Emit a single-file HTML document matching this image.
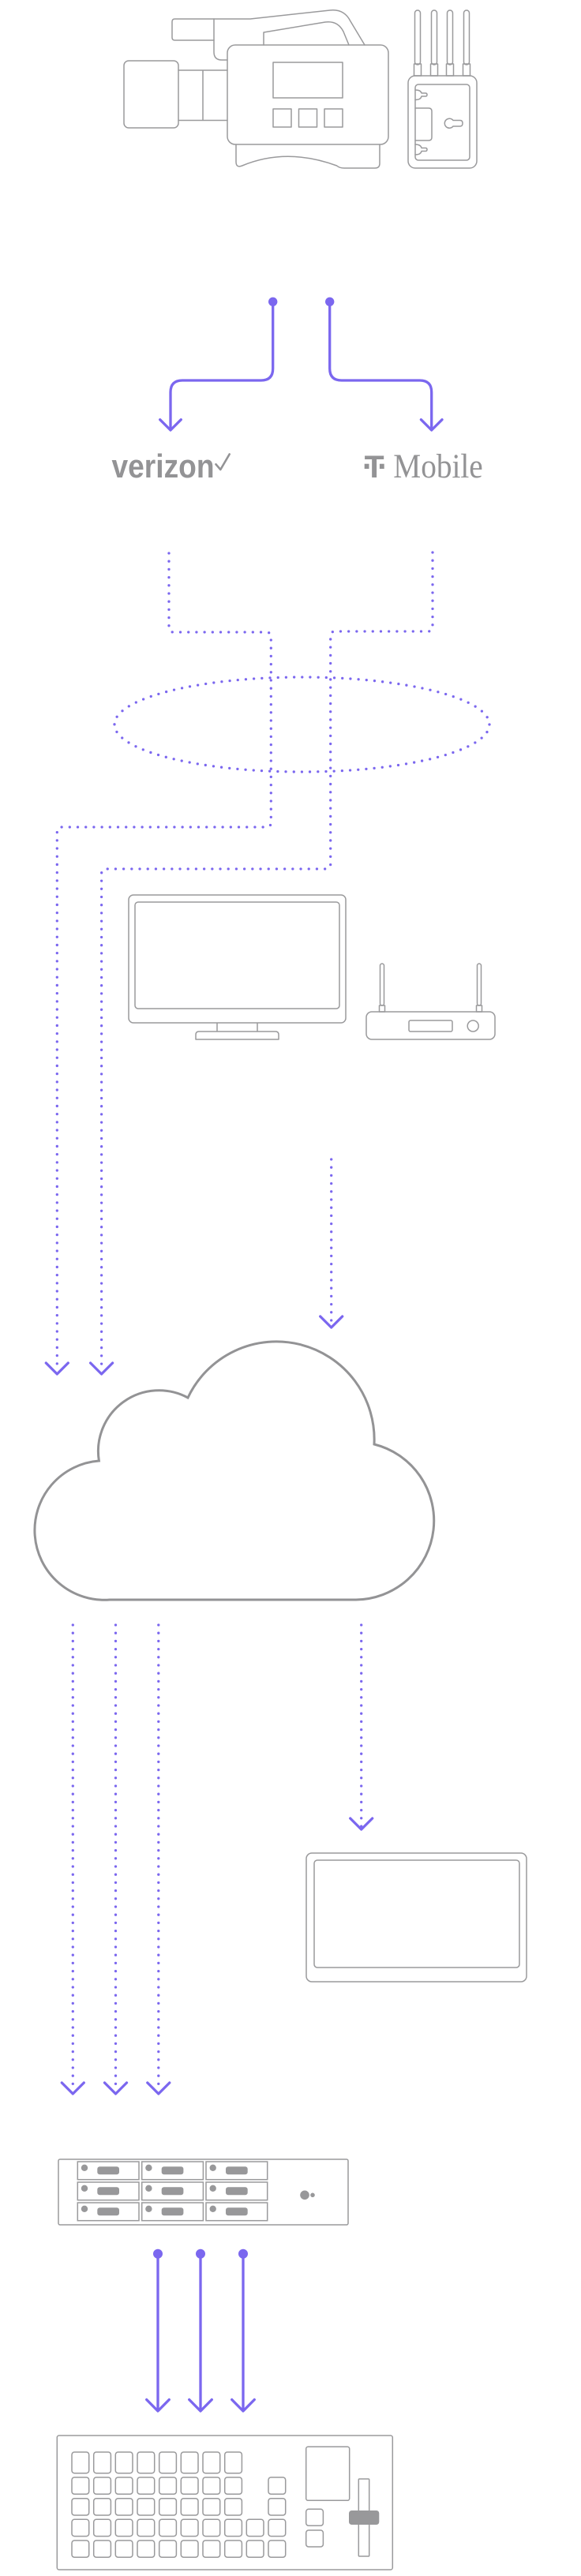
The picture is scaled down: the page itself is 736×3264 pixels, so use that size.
<!DOCTYPE html>
<html>
<head>
<meta charset="utf-8">
<style>
  html,body{margin:0;padding:0;background:#ffffff;}
  body{width:736px;height:3264px;overflow:hidden;}
  svg{display:block;}
</style>
</head>
<body>
<svg width="736" height="3264" viewBox="0 0 736 3264" xmlns="http://www.w3.org/2000/svg">
  <rect x="0" y="0" width="736" height="3264" fill="#ffffff"/>

  <!-- ================= CAMERA + TRANSMITTER ================= -->
  <g fill="none" stroke="#9a9a9c" stroke-width="1.5" stroke-linejoin="round" stroke-linecap="round">
    <!-- handle grip -->
    <path d="M271,24 H221.5 Q218,24 218,27.5 V47.5 Q218,51 221.5,51 H271"/>
    <path d="M271,24 V66 Q271,76 281,76 H288"/>
    <path d="M271,24 H317 L418,13 Q436,11 444,27 L462,57"/>
    <path d="M334,57 V41 L412,28 Q428,26 435,40 L442,57"/>
    <!-- body -->
    <rect x="288" y="57" width="204" height="126" rx="10"/>
    <rect x="346" y="79" width="88" height="45"/>
    <rect x="346" y="138" width="23" height="23"/>
    <rect x="378.5" y="138" width="23" height="23"/>
    <rect x="411" y="138" width="23" height="23"/>
    <!-- lens -->
    <rect x="157" y="77" width="69" height="85" rx="6"/>
    <path d="M226,89 H288 M226,152.5 H288 M257,89 V152.5"/>
    <!-- bottom piece -->
    <path d="M299,183 V205 Q299,213 306.7,210 Q363,186.6 426.7,210 Q430,213 436,213 H475 Q481,213 481,207 V183"/>

    <!-- transmitter antennas -->
    <rect x="525.5" y="13" width="7" height="69" rx="3.5"/>
    <rect x="546.5" y="13" width="7" height="69" rx="3.5"/>
    <rect x="566.5" y="13" width="7" height="69" rx="3.5"/>
    <rect x="587.5" y="13" width="7" height="69" rx="3.5"/>
    <rect x="524.5" y="81" width="9" height="15"/>
    <rect x="545.5" y="81" width="9" height="15"/>
    <rect x="565.5" y="81" width="9" height="15"/>
    <rect x="586.5" y="81" width="9" height="15"/>
    <!-- transmitter body -->
    <rect x="517" y="96" width="87" height="117" rx="9"/>
    <rect x="526" y="107" width="69" height="96" rx="4"/>
    <path d="M526,114 Q533,114 534,118 H539 Q541,118 541,120 Q541,122 539,122 H534 Q533,126.5 526,126.5"/>
    <path d="M526,137 H543 Q547,137 547,141 V174 Q547,178 543,178 H526"/>
    <path d="M526,183 Q533,183 534,187.5 H539 Q541,187.5 541,189.5 Q541,191.5 539,191.5 H534 Q533,196 526,196"/>
    <path d="M574,152.5 A6,6 0 1 0 574,160 H583 Q586,160 586,156.3 Q586,152.5 583,152.5 Z"/>
  </g>

  <!-- ================= TOP SOLID ARROWS ================= -->
  <g fill="none" stroke="#7b67ef" stroke-width="3.3" stroke-linecap="round" stroke-linejoin="round">
    <path d="M345.7,382 V467 Q345.7,482 330.7,482 H231 Q216,482 216,497 V544"/>
    <path d="M202.7,531.7 L216,545 L229.3,531.7"/>
    <path d="M417.7,382 V467 Q417.7,482 432.7,482 H531.7 Q546.7,482 546.7,497 V544"/>
    <path d="M533.4,531.7 L546.7,545 L560,531.7"/>
  </g>
  <circle cx="345.7" cy="382.3" r="5.7" fill="#7b67ef"/>
  <circle cx="417.7" cy="382.3" r="5.7" fill="#7b67ef"/>

  <!-- ================= LOGOS ================= -->
  <text x="141.5" y="605" font-family="'Liberation Sans', Arial, sans-serif" font-weight="bold" font-size="42" fill="#939395" textLength="130" lengthAdjust="spacingAndGlyphs">verizon</text>
  <path d="M273.5,588.3 L279.3,595 L290.7,575.5" fill="none" stroke="#939395" stroke-width="2.6" stroke-linecap="round" stroke-linejoin="round"/>

  <text x="461.7" y="605" font-family="'Liberation Sans', Arial, sans-serif" font-weight="bold" font-size="40" fill="#939395" textLength="25" lengthAdjust="spacingAndGlyphs">T</text>
  <rect x="461.7" y="587.7" width="5.8" height="6.3" fill="#939395"/>
  <rect x="480.9" y="587.7" width="5.8" height="6.3" fill="#939395"/>
  <text x="498.3" y="605" font-family="'Liberation Serif', 'Times New Roman', serif" font-size="43" fill="#939395" textLength="113.4" lengthAdjust="spacingAndGlyphs">Mobile</text>

  <!-- ================= DOTTED PATHS ================= -->
  <g fill="none" stroke="#7b67ef" stroke-width="3.3" stroke-linecap="round" stroke-dasharray="0 10.2">
    <path d="M214,701 V795 Q214,801 220,801 H337 Q343.3,801 343.3,807 V1042 Q343.3,1048 337,1048 H78 Q72.3,1048 72.3,1054 V1738"/>
    <path d="M548,700 V794 Q548,800 542,800 H424.7 Q418.7,800 418.7,806 V1095 Q418.7,1101 412.7,1101 H134.6 Q128.6,1101 128.6,1107 V1738"/>
    <ellipse cx="382.5" cy="918" rx="237.5" ry="60"/>
    <path d="M419.7,1469 V1679"/>
    <path d="M92.3,2059 V2650"/>
    <path d="M146.5,2059 V2650"/>
    <path d="M200.8,2059 V2650"/>
    <path d="M457.7,2059 V2315"/>
  </g>

  <!-- dotted arrow chevrons -->
  <g fill="none" stroke="#7b67ef" stroke-width="3.3" stroke-linecap="round" stroke-linejoin="round">
    <path d="M58.3,1727 L72.3,1741 L86.3,1727"/>
    <path d="M114.6,1727 L128.6,1741 L142.6,1727"/>
    <path d="M405.7,1668 L419.7,1682 L433.7,1668"/>
    <path d="M78.3,2639 L92.3,2653 L106.3,2639"/>
    <path d="M132.5,2639 L146.5,2653 L160.5,2639"/>
    <path d="M186.8,2639 L200.8,2653 L214.8,2639"/>
    <path d="M443.7,2304 L457.7,2318 L471.7,2304"/>
  </g>

  <!-- ================= MONITOR + ROUTER ================= -->
  <g fill="none" stroke="#9a9a9c" stroke-width="1.5" stroke-linejoin="round">
    <rect x="163" y="1134" width="275" height="162" rx="6"/>
    <rect x="171" y="1143" width="259" height="135" rx="4"/>
    <path d="M275,1296 V1307 M326,1296 V1307"/>
    <path d="M248,1317 V1311 Q248,1307 252,1307 H349 Q353,1307 353,1311 V1317 Z"/>

    <rect x="481.5" y="1221" width="5" height="53" rx="2.5"/>
    <rect x="480.5" y="1274" width="7" height="8"/>
    <rect x="604.5" y="1221" width="5" height="53" rx="2.5"/>
    <rect x="603.5" y="1274" width="7" height="8"/>
    <rect x="464" y="1282" width="163" height="35" rx="7"/>
    <rect x="518" y="1293" width="55" height="14" rx="2"/>
    <circle cx="599.2" cy="1300" r="7"/>
  </g>

  <!-- ================= CLOUD ================= -->
  <path d="M139,2027 A88,88 0 0 1 125.4,1851 A77,77 0 0 1 238,1771 A124,124 0 0 1 474,1830 A100,100 0 0 1 451,2027 Z"
        fill="none" stroke="#939395" stroke-width="3" stroke-linejoin="miter"/>

  <!-- ================= TABLET ================= -->
  <g fill="none" stroke="#9a9a9c" stroke-width="1.5">
    <rect x="388" y="2348" width="279" height="163" rx="7"/>
    <rect x="398" y="2357" width="260" height="136" rx="4"/>
  </g>

  <!-- ================= RACK UNIT ================= -->
  <g fill="none" stroke="#9a9a9c" stroke-width="1.5">
    <rect x="74" y="2736" width="367" height="83" rx="2"/>
    <rect x="98.3" y="2739" width="77.7" height="22.7"/>
    <rect x="179.7" y="2739" width="77.7" height="22.7"/>
    <rect x="261" y="2739" width="77.7" height="22.7"/>
    <rect x="98.3" y="2765" width="77.7" height="22.7"/>
    <rect x="179.7" y="2765" width="77.7" height="22.7"/>
    <rect x="261" y="2765" width="77.7" height="22.7"/>
    <rect x="98.3" y="2791" width="77.7" height="22.7"/>
    <rect x="179.7" y="2791" width="77.7" height="22.7"/>
    <rect x="261" y="2791" width="77.7" height="22.7"/>
  </g>
  <g fill="#98989a">
    <circle cx="107" cy="2746.8" r="4.2"/>
    <circle cx="188.4" cy="2746.8" r="4.2"/>
    <circle cx="269.7" cy="2746.8" r="4.2"/>
    <circle cx="107" cy="2772.8" r="4.2"/>
    <circle cx="188.4" cy="2772.8" r="4.2"/>
    <circle cx="269.7" cy="2772.8" r="4.2"/>
    <circle cx="107" cy="2798.8" r="4.2"/>
    <circle cx="188.4" cy="2798.8" r="4.2"/>
    <circle cx="269.7" cy="2798.8" r="4.2"/>
    <rect x="123.3" y="2745.3" width="27.7" height="10" rx="3"/>
    <rect x="204.7" y="2745.3" width="27.7" height="10" rx="3"/>
    <rect x="286" y="2745.3" width="27.7" height="10" rx="3"/>
    <rect x="123.3" y="2771.3" width="27.7" height="10" rx="3"/>
    <rect x="204.7" y="2771.3" width="27.7" height="10" rx="3"/>
    <rect x="286" y="2771.3" width="27.7" height="10" rx="3"/>
    <rect x="123.3" y="2797.3" width="27.7" height="10" rx="3"/>
    <rect x="204.7" y="2797.3" width="27.7" height="10" rx="3"/>
    <rect x="286" y="2797.3" width="27.7" height="10" rx="3"/>
    <circle cx="386" cy="2781.3" r="5.8"/>
    <circle cx="396" cy="2781.3" r="2.8"/>
  </g>

  <!-- ================= BOTTOM SOLID ARROWS ================= -->
  <g fill="none" stroke="#7b67ef" stroke-width="3.3" stroke-linecap="round" stroke-linejoin="round">
    <path d="M200,2856 V3054"/>
    <path d="M254,2856 V3054"/>
    <path d="M308,2856 V3054"/>
    <path d="M185.7,3040.5 L200,3055 L214.3,3040.5"/>
    <path d="M239.7,3040.5 L254,3055 L268.3,3040.5"/>
    <path d="M293.7,3040.5 L308,3055 L322.3,3040.5"/>
  </g>
  <circle cx="200" cy="2855.7" r="6" fill="#7b67ef"/>
  <circle cx="254" cy="2855.7" r="6" fill="#7b67ef"/>
  <circle cx="308" cy="2855.7" r="6" fill="#7b67ef"/>

  <!-- ================= SWITCHER PANEL ================= -->
  <g fill="none" stroke="#9a9a9c" stroke-width="1.5">
    <rect x="72.3" y="3086" width="425" height="170" rx="2.5"/>
    <!-- row 1 (cols 1-8) -->
    <rect x="91" y="3107" width="21.7" height="26.7" rx="3.3"/>
    <rect x="118.7" y="3107" width="21.7" height="26.7" rx="3.3"/>
    <rect x="146.3" y="3107" width="21.7" height="26.7" rx="3.3"/>
    <rect x="174" y="3107" width="21.7" height="26.7" rx="3.3"/>
    <rect x="201.7" y="3107" width="21.7" height="26.7" rx="3.3"/>
    <rect x="229.3" y="3107" width="21.7" height="26.7" rx="3.3"/>
    <rect x="257" y="3107" width="21.7" height="26.7" rx="3.3"/>
    <rect x="284.7" y="3107" width="21.7" height="26.7" rx="3.3"/>
    <!-- row 2 (cols 1-8, 10) -->
    <rect x="91" y="3139" width="21.7" height="21.3" rx="3.3"/>
    <rect x="118.7" y="3139" width="21.7" height="21.3" rx="3.3"/>
    <rect x="146.3" y="3139" width="21.7" height="21.3" rx="3.3"/>
    <rect x="174" y="3139" width="21.7" height="21.3" rx="3.3"/>
    <rect x="201.7" y="3139" width="21.7" height="21.3" rx="3.3"/>
    <rect x="229.3" y="3139" width="21.7" height="21.3" rx="3.3"/>
    <rect x="257" y="3139" width="21.7" height="21.3" rx="3.3"/>
    <rect x="284.7" y="3139" width="21.7" height="21.3" rx="3.3"/>
    <rect x="340" y="3139" width="21.7" height="21.3" rx="3.3"/>
    <!-- row 3 (cols 1-8, 10) -->
    <rect x="91" y="3165.7" width="21.7" height="21.3" rx="3.3"/>
    <rect x="118.7" y="3165.7" width="21.7" height="21.3" rx="3.3"/>
    <rect x="146.3" y="3165.7" width="21.7" height="21.3" rx="3.3"/>
    <rect x="174" y="3165.7" width="21.7" height="21.3" rx="3.3"/>
    <rect x="201.7" y="3165.7" width="21.7" height="21.3" rx="3.3"/>
    <rect x="229.3" y="3165.7" width="21.7" height="21.3" rx="3.3"/>
    <rect x="257" y="3165.7" width="21.7" height="21.3" rx="3.3"/>
    <rect x="284.7" y="3165.7" width="21.7" height="21.3" rx="3.3"/>
    <rect x="340" y="3165.7" width="21.7" height="21.3" rx="3.3"/>
    <!-- row 4 (cols 1-10) -->
    <rect x="91" y="3192.3" width="21.7" height="21.3" rx="3.3"/>
    <rect x="118.7" y="3192.3" width="21.7" height="21.3" rx="3.3"/>
    <rect x="146.3" y="3192.3" width="21.7" height="21.3" rx="3.3"/>
    <rect x="174" y="3192.3" width="21.7" height="21.3" rx="3.3"/>
    <rect x="201.7" y="3192.3" width="21.7" height="21.3" rx="3.3"/>
    <rect x="229.3" y="3192.3" width="21.7" height="21.3" rx="3.3"/>
    <rect x="257" y="3192.3" width="21.7" height="21.3" rx="3.3"/>
    <rect x="284.7" y="3192.3" width="21.7" height="21.3" rx="3.3"/>
    <rect x="312.3" y="3192.3" width="21.7" height="21.3" rx="3.3"/>
    <rect x="340" y="3192.3" width="21.7" height="21.3" rx="3.3"/>
    <!-- row 5 (cols 1-10) -->
    <rect x="91" y="3219" width="21.7" height="21.3" rx="3.3"/>
    <rect x="118.7" y="3219" width="21.7" height="21.3" rx="3.3"/>
    <rect x="146.3" y="3219" width="21.7" height="21.3" rx="3.3"/>
    <rect x="174" y="3219" width="21.7" height="21.3" rx="3.3"/>
    <rect x="201.7" y="3219" width="21.7" height="21.3" rx="3.3"/>
    <rect x="229.3" y="3219" width="21.7" height="21.3" rx="3.3"/>
    <rect x="257" y="3219" width="21.7" height="21.3" rx="3.3"/>
    <rect x="284.7" y="3219" width="21.7" height="21.3" rx="3.3"/>
    <rect x="312.3" y="3219" width="21.7" height="21.3" rx="3.3"/>
    <rect x="340" y="3219" width="21.7" height="21.3" rx="3.3"/>
    <!-- right side controls -->
    <rect x="387.7" y="3100.3" width="55" height="68" rx="2.5"/>
    <rect x="387.7" y="3179.3" width="21.7" height="21" rx="3.3"/>
    <rect x="387.7" y="3206" width="21.7" height="21" rx="3.3"/>
    <rect x="454.3" y="3141" width="13.4" height="98" rx="1"/>
  </g>
  <rect x="442" y="3181" width="38.3" height="18" rx="3.5" fill="#98989a"/>
</svg>
</body>
</html>
